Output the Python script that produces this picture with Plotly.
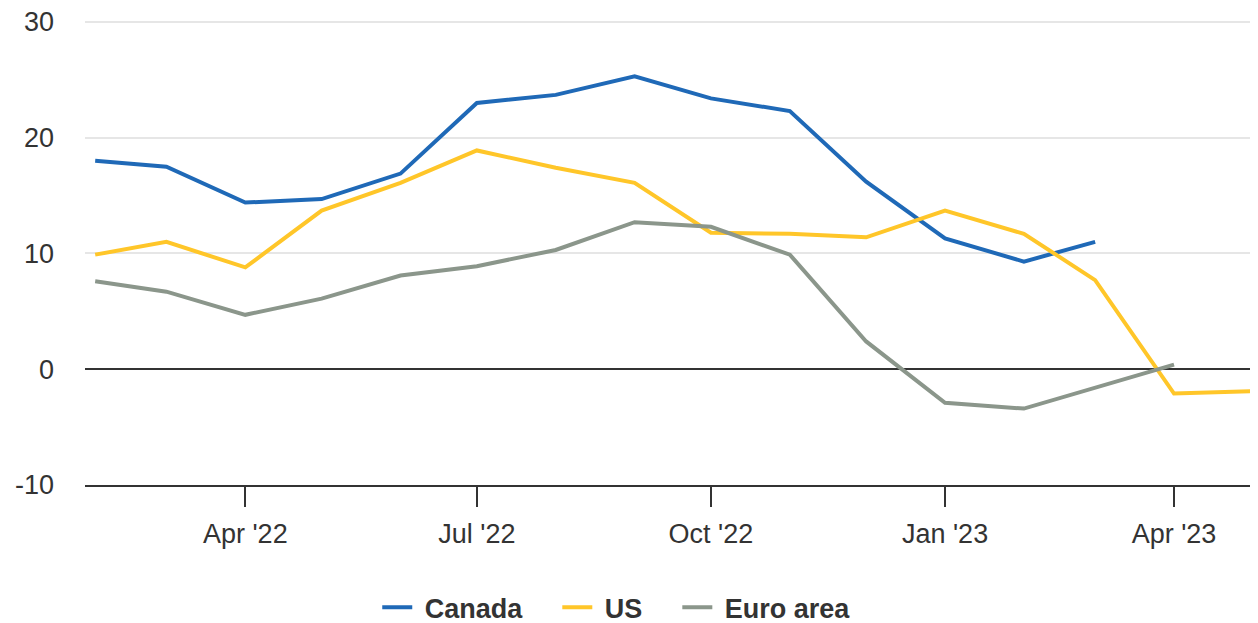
import plotly.graph_objects as go

# Monthly series, Feb 2022 - May 2023 (year-over-year %)
months = ["2022-02-01", "2022-03-01", "2022-04-01", "2022-05-01", "2022-06-01",
          "2022-07-01", "2022-08-01", "2022-09-01", "2022-10-01", "2022-11-01",
          "2022-12-01", "2023-01-01", "2023-02-01", "2023-03-01", "2023-04-01",
          "2023-05-01"]

canada = [18.0, 17.5, 14.4, 14.7, 16.9, 23.0, 23.7, 25.3, 23.4, 22.3,
          16.2, 11.3, 9.3, 11.0, None, None]
us = [9.9, 11.0, 8.8, 13.7, 16.1, 18.9, 17.4, 16.1, 11.8, 11.7,
      11.4, 13.7, 11.7, 7.7, -2.1, -1.9]
euro = [7.6, 6.7, 4.7, 6.1, 8.1, 8.9, 10.3, 12.7, 12.3, 9.9,
        2.4, -2.9, -3.4, -1.6, 0.4, None]

names = ["Canada", "US", "Euro area"]
colors = ["#1f69b7", "#ffc629", "#8b968b"]

y_ticks = [-10, 0, 10, 20, 30]
y_labels = ["-10", "0", "10", "20", "30"]

# extra spacing around legend labels
nb = "\u00a0"

fig = go.Figure()
for i, (name, vals, col) in enumerate(zip(names, [canada, us, euro], colors)):
    label = nb + name + (nb * 4 if i < len(names) - 1 else "")
    fig.add_trace(go.Scatter(x=months, y=vals, name=label, mode="lines",
                             line=dict(color=col, width=4),
                             connectgaps=False))

# page has an 8px body margin, so the figure is sized to fit the window
fig.update_layout(
    width=1250, height=615,
    margin=dict(l=77, r=0, t=7, b=138),
    paper_bgcolor="white", plot_bgcolor="white",
    font=dict(family="Liberation Sans, Arial, sans-serif", size=27, color="#333333"),
    showlegend=True,
    legend=dict(orientation="h", xref="container", yref="container",
                x=0.487, xanchor="center", y=0.025, yanchor="middle",
                font=dict(size=27, color="#333333", weight="bold"),
                itemwidth=30, traceorder="normal"),
)

fig.update_xaxes(
    type="date", range=["2022-01-28", "2023-05-04"],
    tick0="2022-01-01", dtick="M3", tickformat="%b '%y", tickangle=0,
    showgrid=False, showline=True, linecolor="#333333", linewidth=2,
    ticks="outside", ticklen=20, tickwidth=2, tickcolor="#333333",
    ticklabelstandoff=4, zeroline=False, automargin=False,
)

fig.update_yaxes(
    range=[-10, 30.6], tickvals=y_ticks, ticktext=y_labels,
    showgrid=True, gridcolor="#e6e6e6", gridwidth=1.5,
    zeroline=True, zerolinecolor="#333333", zerolinewidth=1.5,
    showline=False, ticks="", ticklabelstandoff=30, automargin=False,
    ticklabeloverflow="allow",
)

fig.write_html("out.html")
